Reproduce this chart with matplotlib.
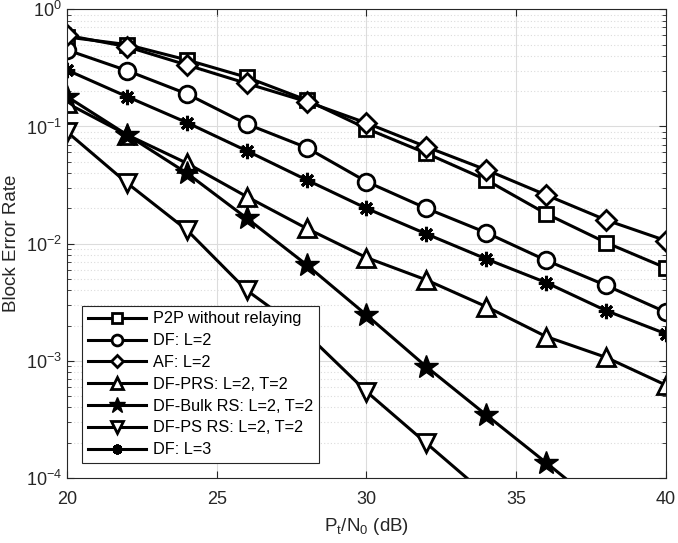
import numpy as np
import matplotlib
matplotlib.use("Agg")
import matplotlib.pyplot as plt
from matplotlib.ticker import LogLocator, NullFormatter, MultipleLocator

plt.rcParams['font.family'] = ['Liberation Sans', 'DejaVu Sans']
plt.rcParams['mathtext.fontset'] = 'custom'
plt.rcParams['mathtext.rm'] = 'Liberation Sans'
plt.rcParams['mathtext.it'] = 'Liberation Sans:italic'

# SNR points (dB)
snr = [20, 22, 24, 26, 28, 30, 32, 34, 36, 38, 40]

# block error rates
p2p = [0.58, 0.50, 0.37, 0.263, 0.168, 0.096, 0.059, 0.035, 0.018, 0.0102, 0.0062]
df_l2 = [0.45, 0.30, 0.19, 0.105, 0.066, 0.0338, 0.020, 0.0124, 0.0072, 0.0044, 0.0026]
af_l2 = [0.60, 0.48, 0.335, 0.233, 0.163, 0.107, 0.067, 0.0426, 0.026, 0.0159, 0.0106]
df_prs = [0.158, 0.085, 0.0486, 0.0252, 0.0135, 0.0076, 0.0049, 0.0029, 0.00161, 0.00107, 0.00062]
df_bulk = [0.18, 0.085, 0.040, 0.0165, 0.0066, 0.00246, 0.00089, 0.000345, 0.000135, 5.2e-5, 2e-5]
df_ps = [0.09, 0.033, 0.0131, 0.0040, 0.0017, 0.000546, 0.000198, 7.2e-5, 2.5e-5, 9e-6, 3e-6]
df_l3 = [0.303, 0.18, 0.108, 0.062, 0.035, 0.020, 0.0121, 0.0074, 0.00465, 0.00268, 0.0017]

labels = ["P2P without relaying", "DF: L=2", "AF: L=2", "DF-PRS: L=2, T=2",
          "DF-Bulk RS: L=2, T=2", "DF-PS RS: L=2, T=2", "DF: L=3"]

fig = plt.figure(figsize=(6.78, 5.43), dpi=100)
ax = fig.add_axes([0.0988, 0.1197, 0.8835, 0.8632])

lw = 2.2
kw = dict(color='black', lw=lw, mfc='white', mec='black', mew=2.0)
ax.plot(snr, p2p, marker='s', ms=10, label=labels[0], **kw)
ax.plot(snr, df_l2, marker='o', ms=12, label=labels[1], **kw)
ax.plot(snr, af_l2, marker='D', ms=10, label=labels[2], **kw)
ax.plot(snr, df_prs, marker='^', ms=13, label=labels[3], **kw)
ax.plot(snr, df_bulk, marker='*', ms=18, color='black', lw=lw, mfc='black',
        mec='black', mew=1.0, label=labels[4])
ax.plot(snr, df_ps, marker='v', ms=13, label=labels[5], **kw)
ax.plot(snr, df_l3, marker=(8, 2, 0), ms=11, color='black', lw=lw,
        mec='black', mew=2.2, label=labels[6])

ax.set_yscale('log')
ax.set_xlim(20, 40)
ax.set_ylim(1e-4, 1)
ax.xaxis.set_major_locator(MultipleLocator(5))
ax.yaxis.set_major_locator(LogLocator(base=10, numticks=10))
ax.yaxis.set_minor_locator(LogLocator(base=10, subs=np.arange(2, 10), numticks=20))
ax.yaxis.set_minor_formatter(NullFormatter())

ax.grid(True, which='major', color='#dcdcdc', lw=0.8, ls='-')
ax.grid(True, which='minor', axis='y', color='#dcdcdc', lw=0.8, ls=(0, (1, 2)))
ax.set_axisbelow(True)

ax.tick_params(which='both', direction='in', top=True, right=True,
               colors='#262626', labelsize=13)
ax.tick_params(axis='x', pad=9)
ax.tick_params(which='major', length=5)
ax.tick_params(which='minor', length=3)
for s in ax.spines.values():
    s.set_color('#262626')
    s.set_linewidth(0.8)

ax.set_xlabel(r'P$_\mathrm{t}$/N$_0$ (dB)', fontsize=13.5, color='#262626', labelpad=6)
ax.set_ylabel('Block Error Rate', fontsize=13.5, color='#262626', labelpad=4)

leg = ax.legend(loc='lower left', bbox_to_anchor=(0.025, 0.032), borderaxespad=0,
                fontsize=11.7, markerscale=0.65, handlelength=3.6, labelspacing=0.42,
                handletextpad=0.4, borderpad=0.35, fancybox=False, framealpha=1)
leg.get_frame().set_edgecolor('#262626')
leg.get_frame().set_linewidth(0.8)
leg.set_zorder(5)

plt.savefig("out.png", dpi=100)
